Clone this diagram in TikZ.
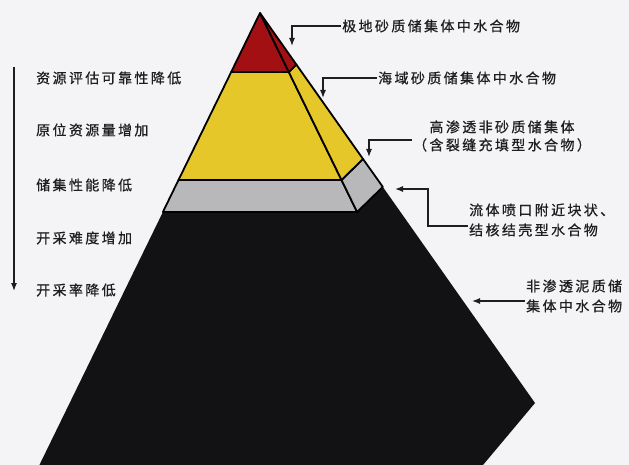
\documentclass[tikz,border=0pt]{standalone}
\usepackage{fontspec}
\usepackage{xcolor}
\usetikzlibrary{arrows.meta}
\newfontfamily\cjk[LetterSpace=17,FakeBold=0.7]{Noto Sans CJK SC}

\definecolor{paper}{RGB}{244,244,246}
\definecolor{inkgray}{RGB}{30,30,32}
\definecolor{polarred}{RGB}{162,16,20}
\definecolor{marineyel}{RGB}{229,199,42}
\definecolor{fracgray}{RGB}{184,184,186}
\definecolor{mudblack}{RGB}{18,18,20}

\tikzset{
  lbl/.style={font={\cjk\fontsize{14}{20}\selectfont},text=inkgray,inner sep=1pt},
  ptr/.style={line width=1.2pt,inkgray,-{Latex[length=8pt,width=6pt]}},
  band/.style={draw=black,line width=1.8pt,line join=round},
}

\begin{document}
\begin{tikzpicture}[x=1pt,y=-1pt]
\fill[paper] (0,0) rectangle (629,465);
\useasboundingbox (0,0) rectangle (629,465);

% pyramid, front face and right face per layer
\fill[mudblack] (162.9,212)--(39.4,465)--(483,465)--(535,403)--(382.8,186.9)--(357.1,212)--cycle;
\filldraw[band,fill=fracgray] (178.5,180)--(162.9,212)--(357.1,212)--(341.5,180)--cycle;
\filldraw[band,fill=fracgray] (341.5,180)--(357.1,212)--(382.8,186.9)--(363,159)--cycle;
\filldraw[band,fill=marineyel] (231.2,72)--(178.5,180)--(341.5,180)--(288.8,72)--cycle;
\filldraw[band,fill=marineyel] (288.8,72)--(341.5,180)--(363,159)--(296.4,64.6)--cycle;
\filldraw[band,fill=polarred] (260,13)--(231.2,72)--(288.8,72)--cycle;
\filldraw[band,fill=polarred] (260,13)--(288.8,72)--(296.4,64.6)--cycle;

% left column: trends going down
\coordinate (axtop) at (14,67);
\coordinate (axbot) at (14,291);
\draw[ptr] (axtop)--(axbot);
\node[lbl,anchor=west] (trend1) at (35,78) {资源评估可靠性降低};
\node[lbl,anchor=west] (trend2) at (35,130) {原位资源量增加};
\node[lbl,anchor=west] (trend3) at (35,185) {储集性能降低};
\node[lbl,anchor=west] (trend4) at (35,238) {开采难度增加};
\node[lbl,anchor=west] (trend5) at (35,290) {开采率降低};

% right column: hydrate types
\coordinate (tip1) at (292,46);
\coordinate (tip2) at (323,98);
\coordinate (tip3) at (369,157);
\coordinate (tip4) at (395,189);
\coordinate (tip5) at (472,301);
\node[lbl,anchor=west] (polar) at (341,26) {极地砂质储集体中水合物};
\node[lbl,anchor=west] (marine) at (377,78) {海域砂质储集体中水合物};
\node[lbl,align=center,font={\cjk\fontsize{14}{18}\selectfont}] (fract) at (502,136) {高渗透非砂质储集体\\（含裂缝充填型水合物）};
\node[lbl,anchor=west,align=left] (vent) at (468,220) {流体喷口附近块状、\\结核结壳型水合物};
\node[lbl,anchor=west,align=left] (mud) at (525,296) {非渗透泥质储\\集体中水合物};

\draw[ptr] (polar.west)-|(tip1);
\draw[ptr] (marine.west)-|(tip2);
\draw[ptr] ([yshift=-4pt]fract.west)-|(tip3);
\draw[ptr] ([yshift=-6pt]vent.west)--++(-40,0)|-(tip4);
\draw[ptr] ([yshift=-5pt]mud.west)--(tip5);
\end{tikzpicture}
\end{document}
